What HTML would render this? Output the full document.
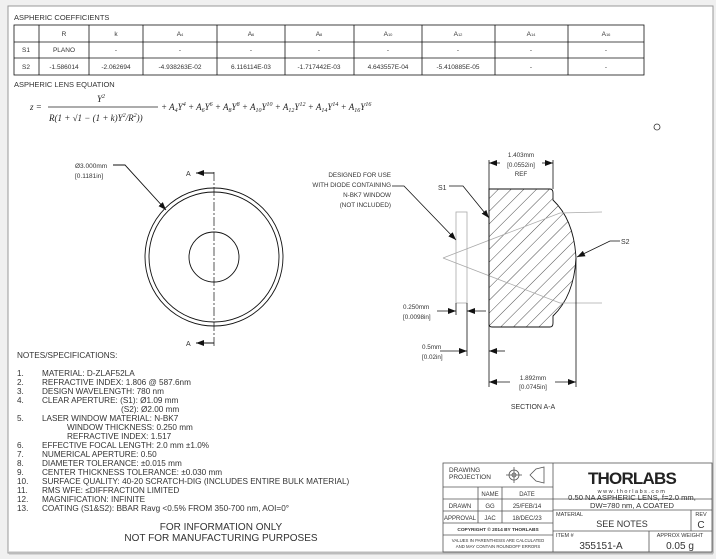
<!DOCTYPE html>
<html><head><meta charset="utf-8"><style>
html,body{margin:0;padding:0;background:#fff;}
svg{display:block;font-family:"Liberation Sans",sans-serif;}
</style></head><body>
<svg width="716" height="559" viewBox="0 0 716 559" xmlns="http://www.w3.org/2000/svg">
<defs>
<pattern id="hatch" patternUnits="userSpaceOnUse" width="9" height="9" patternTransform="rotate(45)">
<line x1="0" y1="0" x2="0" y2="9" stroke="#222" stroke-width="0.8"/>
</pattern>
<marker id="ar" markerWidth="8" markerHeight="6" refX="8" refY="3" orient="auto" markerUnits="userSpaceOnUse"><path d="M0,0 L8,3 L0,6 z" fill="#111"/></marker>
</defs>
<rect x="0" y="0" width="716" height="559" fill="#f0f0f0"/>
<rect x="8" y="6" width="705" height="547" fill="#fff" stroke="#999" stroke-width="1"/>
<line x1="9" y1="553" x2="713" y2="553" stroke="#bbb" stroke-width="3"/>

<!-- Table -->
<text x="14" y="20" font-size="7.5" fill="#333">ASPHERIC COEFFICIENTS</text>
<g stroke="#111" stroke-width="0.8" fill="none">
<rect x="14" y="25" width="630" height="50"/>
<line x1="14" y1="42" x2="644" y2="42"/><line x1="14" y1="58" x2="644" y2="58"/>
<line x1="39" y1="25" x2="39" y2="75"/><line x1="89" y1="25" x2="89" y2="75"/>
<line x1="143" y1="25" x2="143" y2="75"/><line x1="217" y1="25" x2="217" y2="75"/>
<line x1="285" y1="25" x2="285" y2="75"/><line x1="354" y1="25" x2="354" y2="75"/>
<line x1="422" y1="25" x2="422" y2="75"/><line x1="495" y1="25" x2="495" y2="75"/>
<line x1="568" y1="25" x2="568" y2="75"/>
</g>
<g font-size="6.5" fill="#333" text-anchor="middle">
<text x="64" y="36">R</text><text x="116" y="36">k</text>
<text x="180" y="36">A<tspan font-size="4">4</tspan></text><text x="251" y="36">A<tspan font-size="4">6</tspan></text>
<text x="319" y="36">A<tspan font-size="4">8</tspan></text><text x="388" y="36">A<tspan font-size="4">10</tspan></text>
<text x="458" y="36">A<tspan font-size="4">12</tspan></text><text x="531" y="36">A<tspan font-size="4">14</tspan></text>
<text x="606" y="36">A<tspan font-size="4">16</tspan></text>
<text x="26" y="52">S1</text><text x="64" y="52">PLANO</text>
<text x="116" y="52">-</text><text x="180" y="52">-</text><text x="251" y="52">-</text><text x="319" y="52">-</text><text x="388" y="52">-</text><text x="458" y="52">-</text><text x="531" y="52">-</text><text x="606" y="52">-</text>
<text x="26" y="69">S2</text><text x="64" y="69">-1.586014</text><text x="116" y="69">-2.062694</text>
<text x="180" y="69">-4.938263E-02</text><text x="251" y="69">6.116114E-03</text><text x="319" y="69">-1.717442E-03</text>
<text x="388" y="69">4.643557E-04</text><text x="458" y="69">-5.410885E-05</text><text x="531" y="69">-</text><text x="606" y="69">-</text>
</g>
<text x="14" y="87" font-size="7.5" fill="#333">ASPHERIC LENS EQUATION</text>
<g font-family="Liberation Serif,serif" font-style="italic" font-size="9" fill="#222">
<text x="30" y="110">z =</text>
<text x="97" y="102">Y<tspan font-size="6" dy="-4">2</tspan></text>
<line x1="48" y1="107" x2="158" y2="107" stroke="#222" stroke-width="0.7"/>
<text x="49" y="121">R(1 + √1 − (1 + k)Y<tspan font-size="6" dy="-4">2</tspan><tspan dy="4">/R</tspan><tspan font-size="6" dy="-4">2</tspan><tspan dy="4">))</tspan></text>
<text x="161" y="110">+ A<tspan font-size="6" dy="2">4</tspan><tspan dy="-2">Y</tspan><tspan font-size="6" dy="-4">4</tspan><tspan dy="4"> + A</tspan><tspan font-size="6" dy="2">6</tspan><tspan dy="-2">Y</tspan><tspan font-size="6" dy="-4">6</tspan><tspan dy="4"> + A</tspan><tspan font-size="6" dy="2">8</tspan><tspan dy="-2">Y</tspan><tspan font-size="6" dy="-4">8</tspan><tspan dy="4"> + A</tspan><tspan font-size="6" dy="2">10</tspan><tspan dy="-2">Y</tspan><tspan font-size="6" dy="-4">10</tspan><tspan dy="4"> + A</tspan><tspan font-size="6" dy="2">12</tspan><tspan dy="-2">Y</tspan><tspan font-size="6" dy="-4">12</tspan><tspan dy="4"> + A</tspan><tspan font-size="6" dy="2">14</tspan><tspan dy="-2">Y</tspan><tspan font-size="6" dy="-4">14</tspan><tspan dy="4"> + A</tspan><tspan font-size="6" dy="2">16</tspan><tspan dy="-2">Y</tspan><tspan font-size="6" dy="-4">16</tspan></text>
</g>
<circle cx="657" cy="127" r="3" fill="none" stroke="#333" stroke-width="0.8"/>

<!-- Front view -->
<g stroke="#111" stroke-width="0.9" fill="none">
<circle cx="214" cy="257" r="69"/>
<circle cx="214" cy="257" r="65"/>
<circle cx="214" cy="257" r="25"/>
<line x1="214" y1="172" x2="214" y2="346" stroke-dasharray="9,2,2,2" stroke-width="0.7"/>
<line x1="214" y1="173" x2="196" y2="173" marker-end="url(#ar)"/>
<line x1="214" y1="343" x2="196" y2="343" marker-end="url(#ar)"/>
<polyline points="113,165 125,165 166,210" marker-end="url(#ar)"/>
</g>
<text x="186" y="176" font-size="7" fill="#333">A</text>
<text x="186" y="346" font-size="7" fill="#333">A</text>
<text x="75" y="168" font-size="6.5" fill="#333">Ø3.000mm</text>
<text x="75" y="178" font-size="6.5" fill="#333">[0.1181in]</text>

<!-- Section view -->
<path d="M489,189 L550,189 Q553,189 553,193 L553,200 Q574,220 576,258 Q574,296 553,316 L553,323 Q553,327 550,327 L492,327 Q489,327 489,324 Z" fill="url(#hatch)" stroke="#111" stroke-width="0.9"/>
<g stroke="#aaa" stroke-width="0.8" fill="none">
<rect x="456" y="212" width="11" height="91"/>
<polyline points="443,258 560,213 602,212"/>
<polyline points="443,258 560,303 602,303"/>
</g>
<g stroke="#111" stroke-width="0.8" fill="none">
<line x1="489" y1="160" x2="489" y2="387"/>
<line x1="553" y1="160" x2="553" y2="189"/>
<line x1="576" y1="258" x2="576" y2="387"/>
<line x1="467" y1="303" x2="467" y2="356"/>
<line x1="456" y1="303" x2="456" y2="315"/>
<line x1="500" y1="163" x2="489" y2="163" marker-end="url(#ar)"/>
<line x1="542" y1="163" x2="553" y2="163" marker-end="url(#ar)"/>
<line x1="510" y1="382" x2="489" y2="382" marker-end="url(#ar)"/>
<line x1="555" y1="382" x2="576" y2="382" marker-end="url(#ar)"/>
<line x1="437" y1="311" x2="456" y2="311" marker-end="url(#ar)"/>
<line x1="486" y1="311" x2="467" y2="311" marker-end="url(#ar)"/>
<line x1="440" y1="351" x2="467" y2="351" marker-end="url(#ar)"/>
<line x1="505" y1="351" x2="489" y2="351" marker-end="url(#ar)"/>
<polyline points="449,186 463,186 489,218" marker-end="url(#ar)"/>
<polyline points="620,241 610,241 577,257" marker-end="url(#ar)"/>
<polyline points="392,186 404,186 456,240" marker-end="url(#ar)"/>
</g>
<g font-size="6.3" fill="#333">
<text x="521" y="157" text-anchor="middle">1.403mm</text>
<text x="521" y="167" text-anchor="middle">[0.0552in]</text>
<text x="521" y="176" text-anchor="middle">REF</text>
<text x="533" y="380" text-anchor="middle">1.892mm</text>
<text x="533" y="389" text-anchor="middle">[0.0745in]</text>
<text x="533" y="409" text-anchor="middle" font-size="7">SECTION A-A</text>
<text x="438" y="190" font-size="7">S1</text>
<text x="621" y="244" font-size="7">S2</text>
<text x="391" y="177" text-anchor="end">DESIGNED FOR USE</text>
<text x="391" y="187" text-anchor="end">WITH DIODE CONTAINING</text>
<text x="391" y="197" text-anchor="end">N-BK7 WINDOW</text>
<text x="391" y="207" text-anchor="end">(NOT INCLUDED)</text>
<text x="403" y="309">0.250mm</text>
<text x="403" y="319">[0.0098in]</text>
<text x="422" y="349">0.5mm</text>
<text x="422" y="359">[0.02in]</text>
</g>

<!-- Notes -->
<g font-size="8.2" fill="#333">
<text x="17" y="358">NOTES/SPECIFICATIONS:</text>
<text x="17" y="376">1.</text><text x="42" y="376">MATERIAL: D-ZLAF52LA</text>
<text x="17" y="385">2.</text><text x="42" y="385">REFRACTIVE INDEX: 1.806 @ 587.6nm</text>
<text x="17" y="394">3.</text><text x="42" y="394">DESIGN WAVELENGTH: 780 nm</text>
<text x="17" y="403">4.</text><text x="42" y="403">CLEAR APERTURE: (S1): Ø1.09 mm</text>
<text x="121" y="412">(S2): Ø2.00 mm</text>
<text x="17" y="421">5.</text><text x="42" y="421">LASER WINDOW MATERIAL: N-BK7</text>
<text x="67" y="430">WINDOW THICKNESS: 0.250 mm</text>
<text x="67" y="439">REFRACTIVE INDEX: 1.517</text>
<text x="17" y="448">6.</text><text x="42" y="448">EFFECTIVE FOCAL LENGTH: 2.0 mm ±1.0%</text>
<text x="17" y="457">7.</text><text x="42" y="457">NUMERICAL APERTURE: 0.50</text>
<text x="17" y="466">8.</text><text x="42" y="466">DIAMETER TOLERANCE: ±0.015 mm</text>
<text x="17" y="475">9.</text><text x="42" y="475">CENTER THICKNESS TOLERANCE: ±0.030 mm</text>
<text x="17" y="484">10.</text><text x="42" y="484">SURFACE QUALITY: 40-20 SCRATCH-DIG (INCLUDES ENTIRE BULK MATERIAL)</text>
<text x="17" y="493">11.</text><text x="42" y="493">RMS WFE: ≤DIFFRACTION LIMITED</text>
<text x="17" y="502">12.</text><text x="42" y="502">MAGNIFICATION: INFINITE</text>
<text x="17" y="511">13.</text><text x="42" y="511">COATING (S1&amp;S2): BBAR Ravg &lt;0.5% FROM 350-700 nm, AOI=0°</text>
<text x="221" y="530" text-anchor="middle" font-size="10">FOR INFORMATION ONLY</text>
<text x="221" y="541" text-anchor="middle" font-size="10">NOT FOR MANUFACTURING PURPOSES</text>
</g>

<!-- Title block -->
<g stroke="#555" stroke-width="0.8" fill="none">
<rect x="443" y="463" width="269" height="89"/>
<line x1="553" y1="463" x2="553" y2="552"/>
<line x1="443" y1="487" x2="553" y2="487"/>
<line x1="443" y1="499" x2="553" y2="499"/>
<line x1="443" y1="511" x2="553" y2="511"/>
<line x1="443" y1="523" x2="553" y2="523"/>
<line x1="443" y1="535" x2="553" y2="535"/>
<line x1="478" y1="487" x2="478" y2="523"/>
<line x1="502" y1="487" x2="502" y2="523"/>
<line x1="553" y1="499" x2="712" y2="499"/>
<line x1="553" y1="510" x2="712" y2="510"/>
<line x1="553" y1="531" x2="712" y2="531"/>
<line x1="691" y1="510" x2="691" y2="531"/>
<line x1="649" y1="531" x2="649" y2="552"/>
<circle cx="514" cy="475" r="5"/><circle cx="514" cy="475" r="2"/>
<line x1="506" y1="475" x2="522" y2="475"/><line x1="514" y1="467" x2="514" y2="483"/>
<path d="M530,475 L536,469 L544,467 L544,483 L536,481 Z"/>
</g>
<g fill="#333">
<text x="449" y="472" font-size="6.5">DRAWING</text>
<text x="449" y="479" font-size="6.5">PROJECTION</text>
<g font-size="6" text-anchor="middle">
<text x="490" y="496">NAME</text><text x="527" y="496">DATE</text>
<text x="460" y="508">DRAWN</text><text x="490" y="508">GG</text><text x="527" y="508">25/FEB/14</text>
<text x="460" y="520">APPROVAL</text><text x="490" y="520">JAC</text><text x="527" y="520">18/DEC/23</text>
<text x="498" y="531" font-size="4.8" font-weight="bold">COPYRIGHT © 2014 BY THORLABS</text>
<text x="498" y="542" font-size="4.3">VALUES IN PARENTHESIS ARE CALCULATED</text>
<text x="498" y="548" font-size="4.3">AND MAY CONTAIN ROUNDOFF ERRORS</text>
</g>
<text x="632" y="484" font-size="17" font-weight="bold" text-anchor="middle" fill="#222" letter-spacing="-0.8">THORLABS</text>
<text x="632" y="493" font-size="5.5" text-anchor="middle" letter-spacing="1.5">www.thorlabs.com</text>
<text x="632" y="500" font-size="7.6" text-anchor="middle">0.50 NA ASPHERIC LENS, f=2.0 mm,</text>
<text x="632" y="508" font-size="7.6" text-anchor="middle">DW=780 nm, A COATED</text>
<text x="556" y="516" font-size="5.5">MATERIAL</text>
<text x="622" y="527" font-size="9" text-anchor="middle">SEE NOTES</text>
<text x="701" y="516" font-size="5.5" text-anchor="middle">REV</text>
<text x="701" y="528" font-size="10" text-anchor="middle">C</text>
<text x="556" y="537" font-size="5.5">ITEM #</text>
<text x="601" y="549" font-size="10" text-anchor="middle">355151-A</text>
<text x="680" y="537" font-size="5.5" text-anchor="middle">APPROX WEIGHT</text>
<text x="680" y="549" font-size="10" text-anchor="middle">0.05 g</text>
</g>
</svg>
</body></html>
